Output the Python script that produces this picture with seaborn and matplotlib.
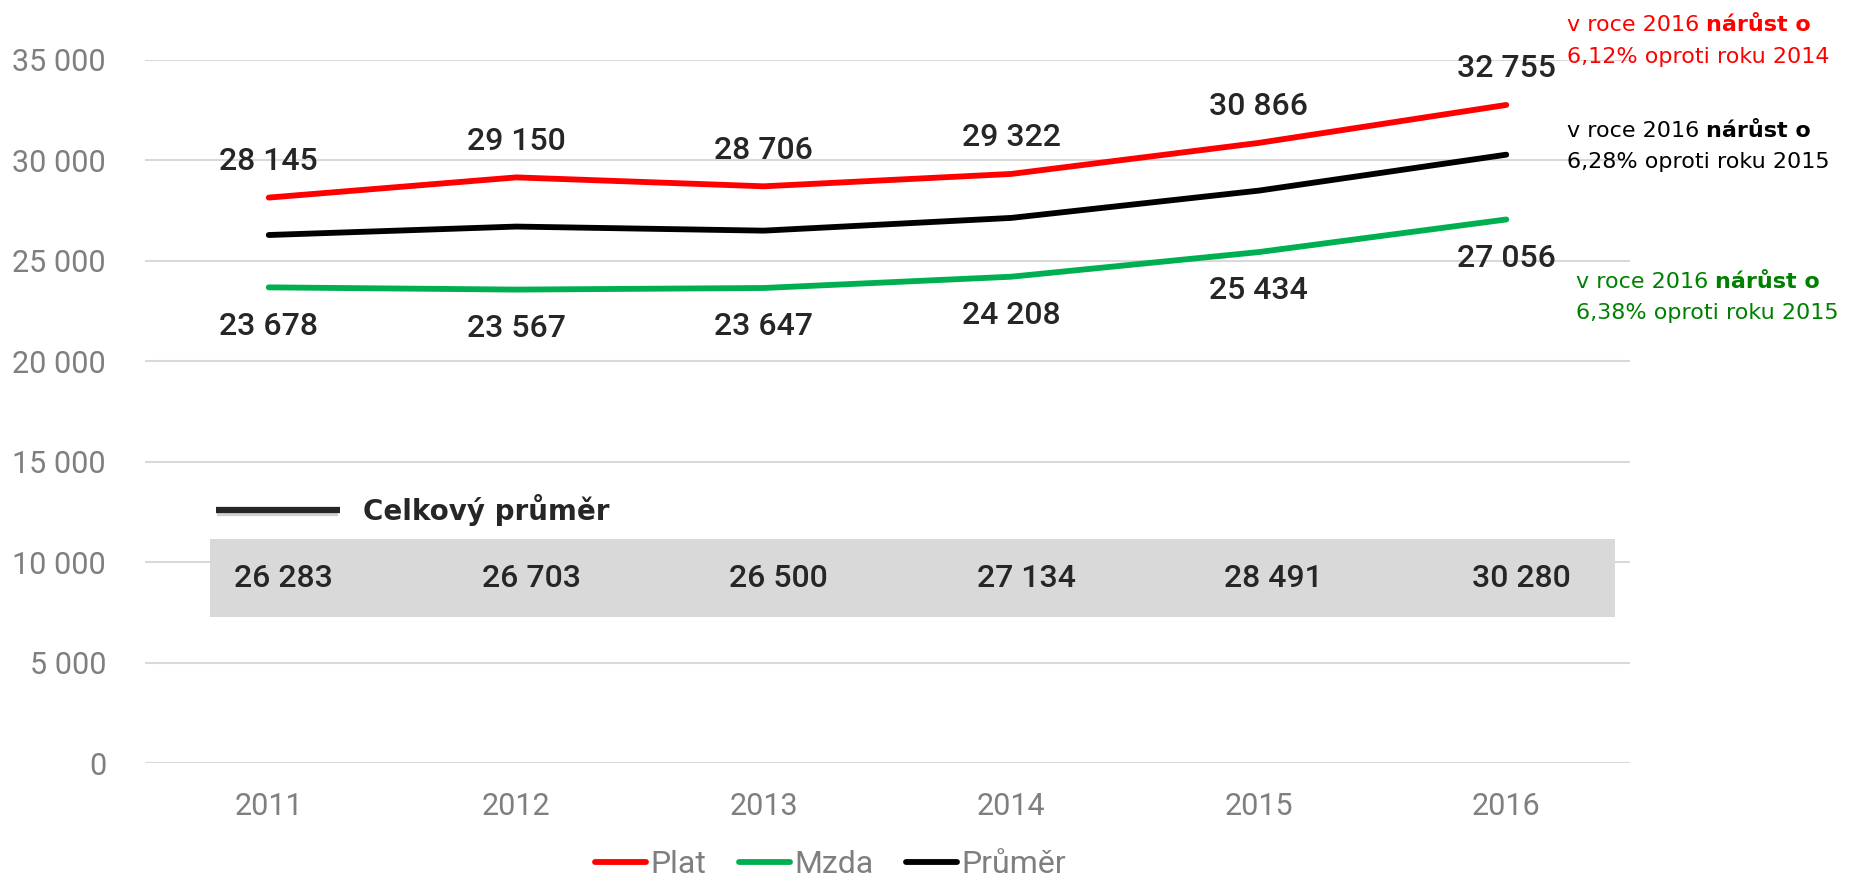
import matplotlib
matplotlib.use("Agg")
import matplotlib.pyplot as plt
import pandas as pd
import seaborn as sns

years = [2011, 2012, 2013, 2014, 2015, 2016]
plat = [28145, 29150, 28706, 29322, 30866, 32755]
mzda = [23678, 23567, 23647, 24208, 25434, 27056]
prumer = [26283, 26703, 26500, 27134, 28491, 30280]
series_names = ["Plat", "Mzda", "Průměr"]
series_colors = ["#ff0000", "#00b050", "#000000"]
y_ticks = [0, 5000, 10000, 15000, 20000, 25000, 30000, 35000]
notes = [
    ("v roce 2016", "nárůst o", "6,12% oproti roku 2014", "#ff0000"),
    ("v roce 2016", "nárůst o", "6,28% oproti roku 2015", "#000000"),
    ("v roce 2016", "nárůst o", "6,38% oproti roku 2015", "#008000"),
]


def fmt(v):
    return f"{v:,}".replace(",", " ")


sns.set_theme(style="white")
plt.rcParams["font.family"] = ["Roboto", "DejaVu Sans"]

df = pd.DataFrame({
    "rok": years * 3,
    "hodnota": plat + mzda + prumer,
    "serie": [s for s in series_names for _ in years],
})

fig = plt.figure(figsize=(18.54, 8.77), dpi=100)
ax = fig.add_axes([0.0782, 0.1297, 0.801, 0.8021])

sns.lineplot(data=df, x="rok", y="hodnota", hue="serie", hue_order=series_names,
             palette=series_colors, linewidth=4.2, ax=ax, zorder=3,
             solid_capstyle="round")

ax.set_xlim(2010.5, 2016.5)
ax.set_ylim(0, 35000)
ax.set_yticks(y_ticks)
ax.set_yticklabels([fmt(v) for v in y_ticks])
ax.set_xticks(years)
ax.set_xticklabels([str(y) for y in years])
ax.tick_params(axis="both", length=0, labelsize=22, labelcolor="#7f7f7f")
ax.tick_params(axis="y", pad=28)
ax.tick_params(axis="x", pad=21)
ax.grid(axis="y", color="#d9d9d9", linewidth=1.5)
ax.set_axisbelow(True)
ax.set_xlabel("")
ax.set_ylabel("")
for s in ax.spines.values():
    s.set_visible(False)

# value labels
label_kw = dict(textcoords="offset points", ha="center", va="center",
                fontsize=23, fontweight="medium", color="#262626")
for x, v in zip(years, plat):
    ax.annotate(fmt(v), (x, v), xytext=(0, 26), **label_kw)
for x, v in zip(years, mzda):
    ax.annotate(fmt(v), (x, v), xytext=(0, -28), **label_kw)

# grey table with the overall average
ax.axhspan(7280, 11160, xmin=0.044, xmax=0.99, color="#d9d9d9", zorder=1, linewidth=0)
for x, v in zip(years, prumer):
    ax.text(x + 0.06, 9170, fmt(v), ha="center", va="center", fontsize=23,
            fontweight="medium", color="#262626", zorder=4)
ax.plot([2010.79, 2011.28], [12520, 12520], color="#7f7f7f", alpha=0.35,
        linewidth=6, zorder=3, solid_capstyle="butt")
ax.plot([2010.785, 2011.288], [12602, 12602], color="#262626", linewidth=4.5,
        zorder=4, solid_capstyle="butt")
ax.text(2011.381, 12602, "Celkový průměr", ha="left", va="center", fontsize=20,
        fontweight="bold", color="#262626", family=["DejaVu Sans"])

# legend
handles, labels = ax.get_legend_handles_labels()
ax.get_legend().remove()
leg = fig.legend(handles, labels, loc="center", bbox_to_anchor=(0.448, 0.014),
                 ncol=3, frameon=False, fontsize=23, handlelength=1.6,
                 handletextpad=0.15, columnspacing=1.0)
for t in leg.get_texts():
    t.set_color("#7f7f7f")
for h in leg.legend_handles:
    h.set_linewidth(4.2)

# notes on the right
note_pos = [(0.8452, 0.9715, 0.935), (0.8452, 0.8506, 0.8153), (0.85, 0.6784, 0.6431)]
for (a, b, c, col), (nx, y1, y2) in zip(notes, note_pos):
    t1 = fig.text(nx, y1, a, ha="left", va="center", fontsize=16, color=col,
                  family=["DejaVu Sans"])
    ax.annotate(b, xy=(1, 0), xycoords=t1, xytext=(5, 0), textcoords="offset points",
                ha="left", va="bottom", fontsize=16, fontweight="bold", color=col,
                family=["DejaVu Sans"], annotation_clip=False)
    fig.text(nx, y2, c, ha="left", va="center", fontsize=16, color=col,
             family=["DejaVu Sans"])

fig.savefig("out.png", dpi=100)
